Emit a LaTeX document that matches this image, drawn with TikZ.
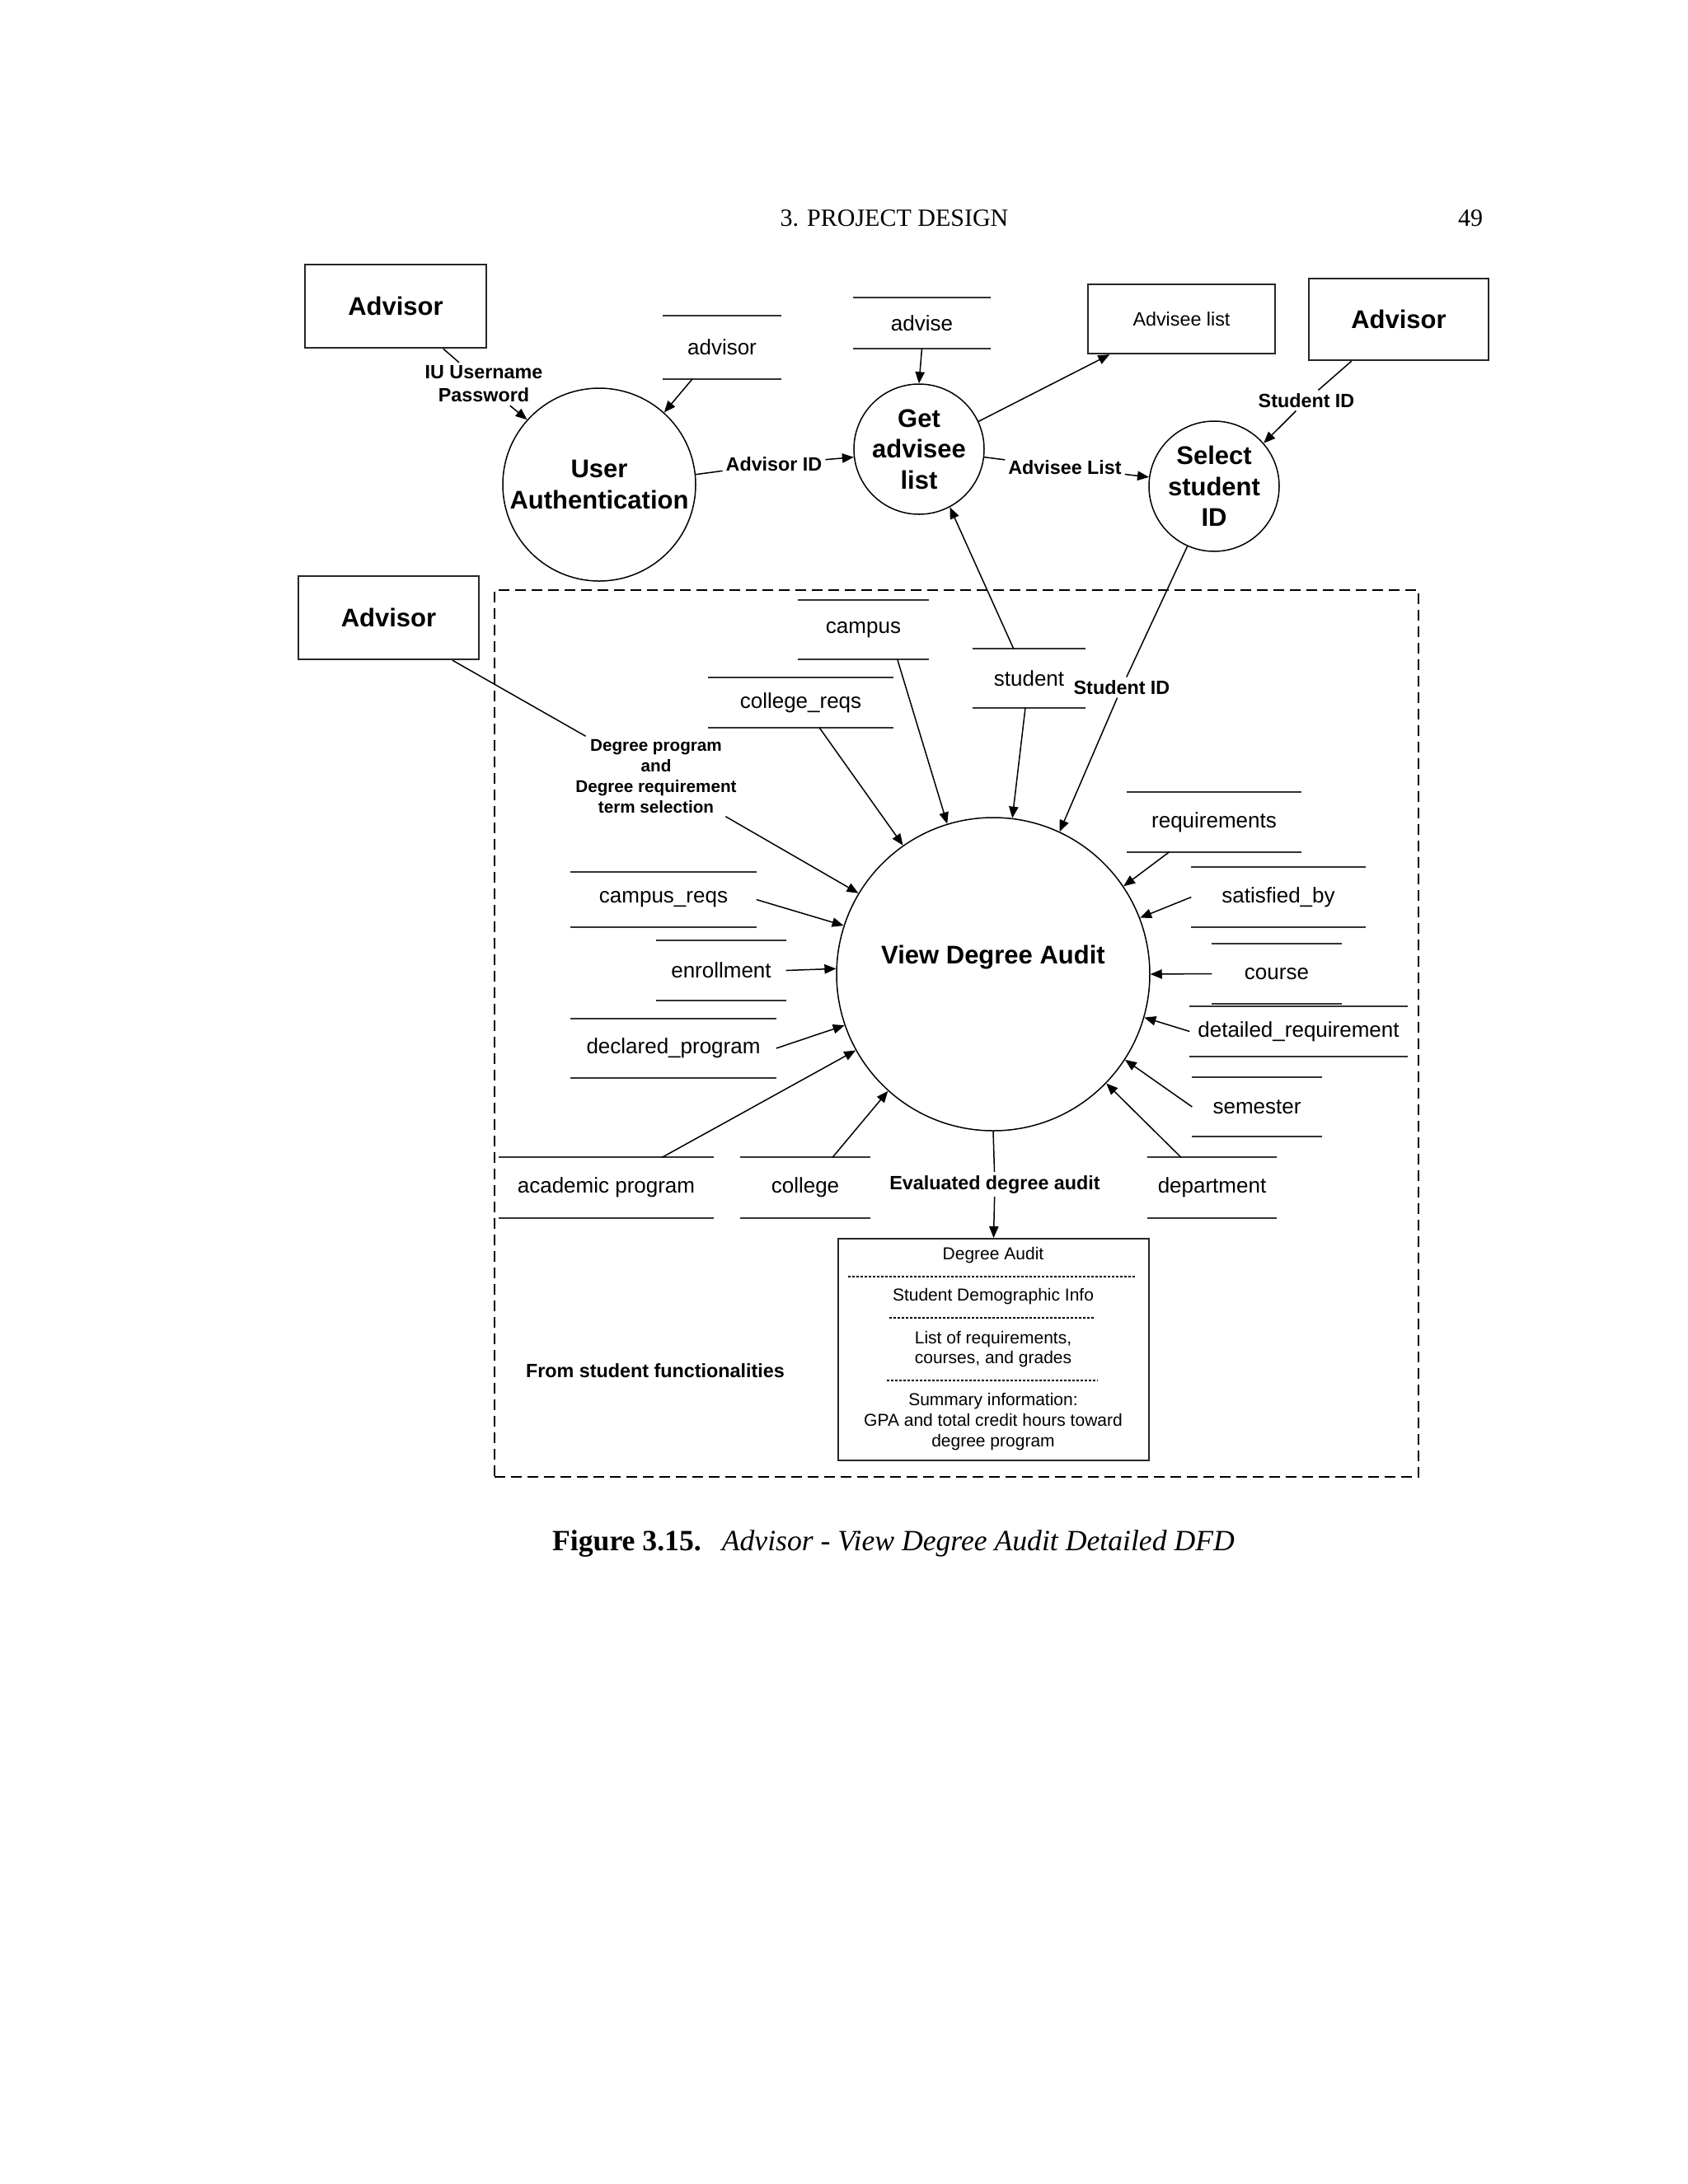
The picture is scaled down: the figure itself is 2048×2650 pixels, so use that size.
\documentclass[tikz,border=0pt]{standalone}
\usepackage{fontspec}
\newfontfamily\dsans{Liberation Sans}
\newfontfamily\dserif{Liberation Serif}
\usetikzlibrary{arrows.meta,fit,calc}
\begin{document}
\begin{tikzpicture}[x=0.3pt,y=-0.3pt,
  arr/.style={-{Triangle[length=4.2pt,width=3.4pt]}, line width=0.45pt},
  flow/.style={line width=0.45pt},
  proc/.style={draw, circle, line width=0.45pt, inner sep=0pt, align=center,
    font=\dsans\bfseries\fontsize{9.3}{11.25}\selectfont},
  entfont/.style={inner sep=0pt, font=\dsans\bfseries\fontsize{9.3}{11.25}\selectfont},
  smallentfont/.style={inner sep=0pt, font=\dsans\fontsize{7}{8.4}\selectfont},
  storefont/.style={inner sep=0pt, font=\dsans\fontsize{7.8}{9}\selectfont},
  ent/.style={draw=black!85, rectangle, line width=0.7pt, inner sep=0pt,
    label={[entfont]center:#1}},
  sink/.style={draw=black!85, rectangle, line width=0.7pt, inner sep=0pt,
    label={[smallentfont]center:#1}},
  store/.style={inner sep=0pt, label={[storefont]center:#1},
    append after command={(\tikzlastnode.north west) edge[line width=0.65pt, draw=black!80] (\tikzlastnode.north east)
      (\tikzlastnode.south west) edge[line width=0.65pt, draw=black!80] (\tikzlastnode.south east)}},
  lab/.style={inner sep=1pt, align=center, font=\dsans\bfseries\fontsize{7}{8.4}\selectfont},
  boxtxt/.style={inner sep=0pt, align=center, font=\dsans\fontsize{6.3}{7.5}\selectfont},
  sep/.style={line width=0.5pt, dash pattern=on 0.9pt off 0.6pt}
]
\useasboundingbox (0,0) rectangle (2048,2650);

% header and caption
\node[font=\dserif\fontsize{9}{10.5}\selectfont] (hdr) at (1085,265) {3. PROJECT DESIGN};
\node[font=\dserif\fontsize{9}{10.5}\selectfont] (pg) at (1784,265) {49};
\node[font=\dserif\fontsize{10.7}{12}\selectfont] (cap) at (1084,1873)
  {\textbf{Figure 3.15.}\hspace{7.5pt}\textit{Advisor - View Degree Audit Detailed DFD}};

% frame
\node[draw, dash pattern=on 4pt off 2pt, line width=0.45pt, inner sep=0pt, fit={(600,716) (1721,1792)}] (frame) {};

% external entities
\node[ent=Advisor, fit={(370,321) (590,422)}] (adv1) {};
\node[ent=Advisor, fit={(1588,338) (1806,437)}] (adv2) {};
\node[ent=Advisor, fit={(362,699) (581,800)}] (adv3) {};
\node[sink=Advisee list, fit={(1320,345) (1547,429)}] (adlist) {};

% processes
\node[proc, minimum size=70.2pt] (ua) at (727,588) {User\\Authentication};
\node[proc, minimum size=47.4pt] (get) at (1115,545) {Get\\advisee\\list};
\node[proc, minimum size=47.4pt] (sel) at (1473,590) {Select\\student\\ID};
\node[proc, minimum size=114pt] (vda) at (1205,1182) {};
\node[inner sep=0pt, font=\dsans\bfseries\fontsize{9.3}{11.25}\selectfont] (vdat) at (1205,1162) {View Degree Audit};

% data stores
\node[store=advisor, fit={(805,384) (947,459)}] (advisor) {};
\node[store=advise, fit={(1036,362) (1201,422)}] (advise) {};
\node[store=campus, fit={(969,729) (1126,799)}] (campus) {};
\node[store=college\_reqs, fit={(860,823) (1083,882)}] (collreqs) {};
\node[store=student, fit={(1181,788) (1316,858)}] (student) {};
\node[store=requirements, fit={(1368,962) (1578,1033)}] (reqs) {};
\node[store=satisfied\_by, fit={(1446,1053) (1656,1124)}] (satby) {};
\node[store=course, fit={(1471,1146) (1627,1217)}] (course) {};
\node[store=detailed\_requirement, fit={(1444,1222) (1707,1281)}] (detreq) {};
\node[store=semester, fit={(1447,1308) (1603,1378)}] (semester) {};
\node[store=department, fit={(1393,1405) (1548,1477)}] (dept) {};
\node[store=campus\_reqs, fit={(693,1059) (917,1124)}] (campreqs) {};
\node[store=enrollment, fit={(797,1142) (953,1213)}] (enroll) {};
\node[store=declared\_program, fit={(693,1237) (941,1307)}] (declprog) {};
\node[store=academic program, fit={(606,1405) (865,1477)}] (acadprog) {};
\node[store=college, fit={(899,1405) (1055,1477)}] (college) {};

% flow labels
\node[lab] (iulab) at (587,466) {IU Username\\Password};
\node[lab] (advid) at (939,563) {Advisor ID};
\node[lab] (alab) at (1292,567) {Advisee List};
\node[lab] (sid1) at (1585,486) {Student ID};
\node[lab] (sid2) at (1361,834) {Student ID};
\node[lab, font=\dsans\bfseries\fontsize{6.2}{7.5}\selectfont] (dplab) at (796,942)
  {Degree program\\and\\Degree requirement\\term selection};
\node[lab] (evlab) at (1207,1437) {Evaluated degree audit};
\node[lab, font=\dsans\bfseries\fontsize{7}{8.4}\selectfont] (fromlab) at (795,1663) {From student functionalities};

% degree audit output box
\node[draw=black!85, line width=0.6pt, inner sep=0pt, fit={(1017,1503) (1394,1772)}] (dabox) {};
\node[boxtxt] (da1) at (1205,1523) {Degree Audit};
\node[boxtxt] (da2) at (1205,1573) {Student Demographic Info};
\node[boxtxt, font=\dsans\fontsize{6.3}{7.2}\selectfont] (da3) at (1205,1637) {List of requirements,\\courses, and grades};
\node[boxtxt] (da4) at (1205,1725) {Summary information:\\GPA and total credit hours toward\\degree program};
\draw[sep] (1029,1549) -- (1378,1549);
\draw[sep] (1079,1599) -- (1328,1599);
\draw[sep] (1076,1675) -- (1332,1675);

% connectors (top part)
\draw[flow] ($(adv1.south west)!0.76!(adv1.south east)$) -- (iulab);
\draw[arr] (iulab) -- (ua.138.8);
\draw[arr] ($(advisor.south west)!0.25!(advisor.south east)$) -- (ua.48.4);
\draw[flow] (ua.6.3) -- (advid);
\draw[arr] (advid) -- (get.-173);
\draw[arr] (advise.south) -- (get.north);
\draw[arr] (get.25.9) -- ($(adlist.south west)!0.12!(adlist.south east)$);
\draw[flow] (get.-7.2) -- (alab);
\draw[arr] (alab) -- (sel.172);
\draw[flow] ($(adv2.south west)!0.24!(adv2.south east)$) -- (sid1);
\draw[arr] (sid1) -- (sel.41.5);
\draw[flow] (sel.-114.4) -- (sid2);
\draw[arr] (sid2) -- (vda.65.1);
\draw[arr] ($(student.north west)!0.363!(student.north east)$) -- (get.-62.5);

% connectors into View Degree Audit
\draw[arr] ($(student.south west)!0.467!(student.south east)$) -- (vda.83.1);
\draw[arr] ($(campus.south west)!0.76!(campus.south east)$) -- (vda.107.5);
\draw[arr] ($(collreqs.south west)!0.6!(collreqs.south east)$) -- (vda.125.7);
\draw[flow] ($(adv3.south west)!0.85!(adv3.south east)$) -- (dplab);
\draw[arr] (dplab) -- (vda.149.7);
\draw[arr] (campreqs.east) -- (vda.162.8);
\draw[arr] (enroll.east) -- (vda.178.8);
\draw[arr] (declprog.east) -- (vda.199.2);
\draw[arr] ($(acadprog.north west)!0.76!(acadprog.north east)$) -- (vda.209);
\draw[arr] ($(college.north west)!0.71!(college.north east)$) -- (vda.228.6);
\draw[arr] ($(dept.north west)!0.26!(dept.north east)$) -- (vda.-44.2);
\draw[arr] (semester.west) -- (vda.-33.5);
\draw[arr] (detreq.west) -- (vda.-16.2);
\draw[arr] (course.west) -- (vda.0);
\draw[arr] (satby.west) -- (vda.21.2);
\draw[arr] ($(reqs.south west)!0.243!(reqs.south east)$) -- (vda.34.6);
\draw[flow] (vda.south) -- (evlab);
\draw[arr] (evlab) -- (dabox.north);
\end{tikzpicture}
\end{document}
